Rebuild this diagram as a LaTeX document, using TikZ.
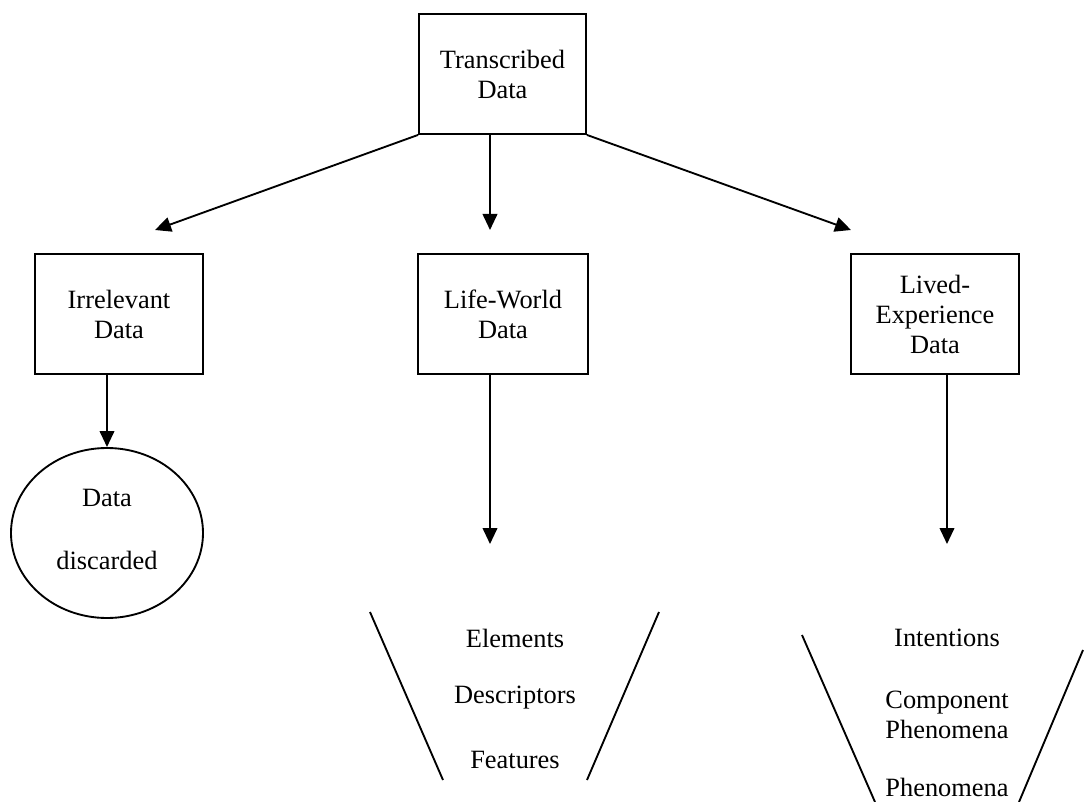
\documentclass[tikz,border=0pt]{standalone}
\usepackage{fontspec}
\setmainfont{Liberation Serif}
\usetikzlibrary{arrows.meta,shapes.geometric}
\tikzset{
  box/.style={draw,line width=1.4pt,inner sep=0pt,align=center,font=\fontsize{19.8}{22.5}\selectfont},
  oval/.style={draw,ellipse,line width=1.4pt,inner sep=0pt},
  lbl/.style={inner sep=0pt,align=center,font=\fontsize{19.8}{22.5}\selectfont},
  arr/.style={line width=1.4pt,-{Triangle[length=12pt,width=11pt]}},
  ln/.style={line width=1.4pt}
}
\begin{document}
\begin{tikzpicture}[x=0.75pt,y=-0.75pt]
\useasboundingbox (0,0) rectangle (1084,802);
% boxes
\node[box,minimum width=167*0.75pt,minimum height=120*0.75pt] (T) at (502.5,74) {Transcribed\\Data};
\node[box,minimum width=168*0.75pt,minimum height=120*0.75pt] (I) at (119,314) {Irrelevant\\Data};
\node[box,minimum width=170*0.75pt,minimum height=120*0.75pt] (L) at (503,314) {Life-World\\Data};
\node[box,minimum width=168*0.75pt,minimum height=120*0.75pt] (E) at (935,314) {Lived-\\Experience\\Data};
\node[oval,minimum width=192*0.75pt,minimum height=170*0.75pt] (D) at (107,533) {};
\node[lbl] (D1) at (107,498) {Data};
\node[lbl] (D2) at (107,560) {discarded};
% arrow end points
\coordinate (tm) at (490,134);
\coordinate (a1) at (155,230);
\coordinate (a2) at (490,230);
\coordinate (a3) at (851,230);
\coordinate (ib) at (107,374);
\coordinate (a4) at (107,447);
\coordinate (lb) at (490,374);
\coordinate (a5) at (490,544);
\coordinate (eb) at (947,374);
\coordinate (a6) at (947,544);
\draw[arr] (T.south west) -- (a1);
\draw[arr] (tm) -- (a2);
\draw[arr] (T.south east) -- (a3);
\draw[arr] (ib) -- (a4);
\draw[arr] (lb) -- (a5);
\draw[arr] (eb) -- (a6);
% funnel 1
\coordinate (f1a) at (370,612);
\coordinate (f1b) at (443,780);
\coordinate (f1c) at (659,612);
\coordinate (f1d) at (587,780);
\draw[ln] (f1a) -- (f1b);
\draw[ln] (f1c) -- (f1d);
\node[lbl] (el) at (515,638) {Elements};
\node[lbl] (de) at (515,698) {Descriptors};
\node[lbl] (fe) at (515,760) {Features};
% funnel 2
\coordinate (f2a) at (802,635);
\coordinate (f2b) at (875,802);
\coordinate (f2c) at (1083,650);
\coordinate (f2d) at (1019,802);
\draw[ln] (f2a) -- (f2b);
\draw[ln] (f2c) -- (f2d);
\node[lbl] (in) at (947,638) {Intentions};
\node[lbl] (cp) at (947,715) {Component\\Phenomena};
\node[lbl] (ph) at (947,787) {Phenomena};
\end{tikzpicture}
\end{document}
